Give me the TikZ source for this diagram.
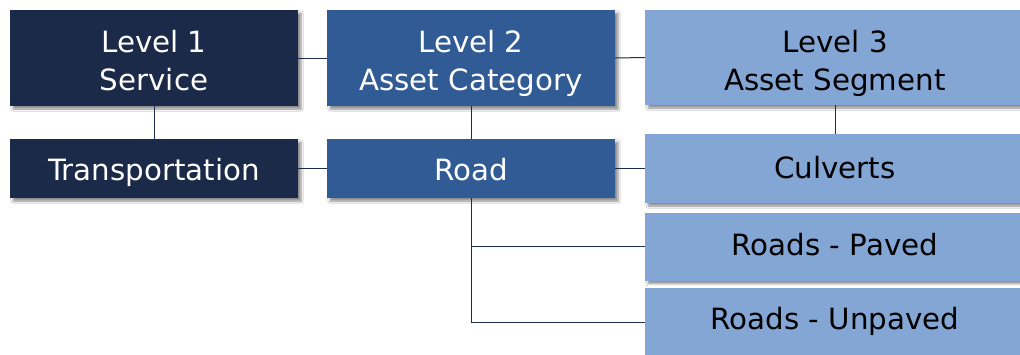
\documentclass[tikz,border=0pt]{standalone}
\usepackage{fontspec}
\setmainfont{DejaVu Sans}
\usetikzlibrary{shadows.blur}
\definecolor{navy}{RGB}{27,42,72}
\definecolor{midblue}{RGB}{48,91,149}
\definecolor{lightblue}{RGB}{131,166,212}
\definecolor{lineclr}{RGB}{30,45,75}
\newcommand{\twolines}[2]{\begin{tabular}[t]{@{}c@{}}#1\\#2\end{tabular}}
\tikzset{
  box/.style={rectangle, inner sep=0pt,
    font=\fontsize{29.3}{38}\selectfont,
    blur shadow={shadow xshift=3pt, shadow yshift=-3pt, shadow blur steps=6, shadow opacity=45}},
  lvlone/.style={box, fill=navy, text=white},
  lvltwo/.style={box, fill=midblue, text=white},
  lvlthree/.style={box, fill=lightblue, text=black},
  oneline/.style={text height=#1, text depth=0pt},
  twoline/.style={text height=26pt, text depth=#1},
  link/.style={draw=lineclr, line width=1pt}
}
\begin{document}
\begin{tikzpicture}[x=1pt,y=-1pt]
\fill[white] (0,0) rectangle (1020,354);
\useasboundingbox (0,0) rectangle (1020,354);
\begin{scope}
\clip (0,0) rectangle (1020,354);
\node[lvlone, twoline=38pt, minimum width=288pt, minimum height=96pt] (l1) at (154,58) {\twolines{Level 1}{Service}};
\node[lvlone, oneline=23pt, minimum width=288pt, minimum height=59pt] (tr) at (154,168.5) {Transportation};
\node[lvltwo, twoline=38pt, minimum width=288pt, minimum height=96pt] (l2) at (471,58) {\twolines{Level 2}{Asset Category}};
\node[lvltwo, oneline=23pt, minimum width=288pt, minimum height=59pt] (rd) at (471,168.5) {Road};
\node[lvlthree, twoline=37pt, minimum width=380pt, minimum height=95pt] (l3) at (835,57.5) {\twolines{Level 3}{Asset Segment}};
\node[lvlthree, oneline=19pt, minimum width=380pt, minimum height=69pt] (cu) at (835,168.5) {Culverts};
\node[lvlthree, oneline=18pt, minimum width=380pt, minimum height=68pt] (pv) at (835,246.7) {Roads - Paved};
\node[lvlthree, oneline=14pt, minimum width=380pt, minimum height=68pt] (up) at (835,322) {Roads - Unpaved};
\draw[link] (l1.south) -- (tr.north);
\draw[link] (l2.south) -- (rd.north);
\draw[link] (l3.south) -- (cu.north);
\draw[link] (l1.east) -- (l2.west);
\draw[link] (l2.east) -- (l3.west);
\draw[link] (tr.east) -- (rd.west);
\draw[link] (rd.east) -- (cu.west);
\draw[link] (rd.south) |- (pv.west);
\draw[link] (rd.south) |- (up.west);
\end{scope}
\end{tikzpicture}
\end{document}
